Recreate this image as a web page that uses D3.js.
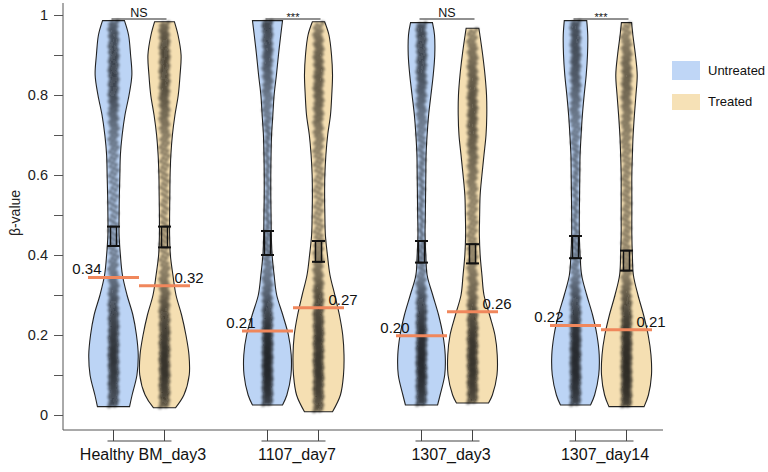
<!DOCTYPE html>
<html>
<head>
<meta charset="utf-8">
<script src="https://cdn.jsdelivr.net/npm/d3@7"></script>
<style>
  body { margin: 0; background: #fff; }
  svg { font-family: "Liberation Sans", Arial, sans-serif; }
</style>
</head>
<body>
<div id="chart"></div>
<script>
// groups on the x axis and the two conditions inside each
var groups = ["Healthy BM_day3", "1107_day7", "1307_day3", "1307_day14"];
var conditions = ["Untreated", "Treated"];
var fills = ["#bcd4f5", "#f5dfb2"];

// beta levels where the violin density was read (between each violin's ends)
var densityLevels = [0.05, 0.10, 0.15, 0.20, 0.25, 0.30, 0.35, 0.40, 0.45, 0.50,
                     0.55, 0.60, 0.65, 0.70, 0.75, 0.80, 0.85, 0.90, 0.95];
var lowEnds  = [[0.021, 0.018], [0.025, 0.008], [0.025, 0.030], [0.025, 0.021]];
var highEnds = [[0.986, 0.983], [0.986, 0.983], [0.981, 0.967], [0.986, 0.981]];

// relative density: low end, the 19 levels, high end
var densities = [
  [[0.63,0.73,0.92,0.97,0.90,0.76,0.53,0.35,0.27,0.22,0.22,0.23,0.25,0.27,0.34,0.45,0.61,0.72,0.67,0.59,0.43],
   [0.43,0.76,0.97,0.96,0.84,0.67,0.45,0.33,0.23,0.20,0.20,0.21,0.22,0.25,0.31,0.41,0.54,0.61,0.65,0.53,0.39]],
  [[0.59,0.76,0.92,0.93,0.82,0.60,0.36,0.26,0.18,0.15,0.14,0.13,0.13,0.14,0.16,0.21,0.26,0.35,0.43,0.52,0.59],
   [0.55,0.86,0.98,1.00,0.95,0.82,0.64,0.45,0.35,0.27,0.25,0.24,0.25,0.29,0.36,0.47,0.52,0.55,0.51,0.41,0.24]],
  [[0.63,0.73,0.91,0.93,0.84,0.67,0.44,0.22,0.17,0.14,0.15,0.16,0.17,0.18,0.22,0.28,0.37,0.46,0.52,0.51,0.43],
   [0.63,0.78,0.96,0.97,0.88,0.67,0.45,0.37,0.30,0.27,0.28,0.30,0.37,0.45,0.53,0.56,0.55,0.49,0.40,0.29,0.25]],
  [[0.59,0.75,0.91,0.93,0.84,0.67,0.44,0.24,0.18,0.15,0.15,0.16,0.17,0.18,0.22,0.27,0.34,0.42,0.47,0.48,0.44],
   [0.69,0.86,0.98,0.96,0.85,0.67,0.45,0.27,0.23,0.21,0.21,0.21,0.21,0.23,0.26,0.31,0.37,0.42,0.35,0.25,0.20]]
];

var medians = [[0.344, 0.323], [0.21, 0.268], [0.198, 0.258], [0.224, 0.213]];
var errLow  = [[0.4225, 0.419], [0.400, 0.383], [0.381, 0.379], [0.392, 0.361]];
var errHigh = [[0.471, 0.471], [0.460, 0.435], [0.435, 0.427], [0.4475, 0.411]];
var significance = ["NS", "***", "NS", "***"];
var yTicks = d3.range(11).map(function(i) { return i / 10; });

var width = 768, height = 472;
var svg = d3.select("#chart").append("svg")
    .attr("width", width)
    .attr("height", height);

var y = d3.scaleLinear().domain([0, 1]).range([415, 15]);
var x0 = d3.scaleBand().domain(groups).range([62, 678]);
var x1 = d3.scaleBand().domain(conditions).range([-51, 51]);
var halfW = d3.scaleLinear().domain([0, 1]).range([0, x1.bandwidth() / 2]);
var axisX = 63, axisBottom = y(0) + 15;

function groupCenter(g) { return x0(g) + x0.bandwidth() / 2; }
function violinCenter(g, c) { return groupCenter(g) + x1(c) + x1.bandwidth() / 2; }

var defs = svg.append("defs");
defs.append("filter").attr("id", "soft")
    .append("feGaussianBlur").attr("stdDeviation", 0.85);

// axes
var yAxis = d3.axisLeft(y)
    .tickValues(yTicks)
    .tickSize(9)
    .tickPadding(6)
    .tickFormat(function(d, i) { return i % 2 === 0 ? d3.format("~g")(d) : ""; });

var gy = svg.append("g")
    .attr("transform", "translate(" + axisX + ",0)")
    .call(yAxis);
gy.select(".domain").remove();
gy.selectAll(".tick line").attr("stroke", "#555");
gy.selectAll(".tick text")
    .attr("font-size", 14.5)
    .attr("fill", "#222")
    .attr("font-family", "Liberation Sans, Arial, sans-serif");

svg.append("line")
    .attr("x1", axisX).attr("x2", axisX)
    .attr("y1", y(1) - 12).attr("y2", axisBottom)
    .attr("stroke", "#555");
svg.append("line")
    .attr("x1", axisX).attr("x2", x0.range()[1] - 15)
    .attr("y1", axisBottom).attr("y2", axisBottom)
    .attr("stroke", "#555");

svg.append("text")
    .attr("transform", "translate(20," + (y(0.5) - 2) + ") rotate(-90)")
    .attr("text-anchor", "middle")
    .attr("font-size", 14)
    .attr("fill", "#222")
    .text("β-value");

// one violin per group x condition
var cells = [];
groups.forEach(function(g, gi) {
    conditions.forEach(function(c, ci) {
        var vs = [lowEnds[gi][ci]].concat(densityLevels, [highEnds[gi][ci]]);
        var profile = vs.map(function(v, k) { return { v: v, d: densities[gi][ci][k] }; });
        cells.push({
            group: g, gi: gi, cond: c, ci: ci,
            cx: violinCenter(g, c),
            profile: profile,
            median: medians[gi][ci],
            lo: errLow[gi][ci], hi: errHigh[gi][ci]
        });
    });
});

var area = d3.area()
    .curve(d3.curveCatmullRom)
    .y(function(p) { return y(p.v); });

var violins = svg.selectAll("g.violin")
    .data(cells).enter()
    .append("g")
    .attr("class", "violin");

violins.append("path")
    .attr("d", function(d) {
        return area
            .x0(function(p) { return d.cx - halfW(p.d); })
            .x1(function(p) { return d.cx + halfW(p.d); })(d.profile);
    })
    .attr("fill", function(d) { return fills[d.ci]; })
    .attr("stroke", "#222")
    .attr("stroke-width", 1.1);

// points placed at quantiles of each violin's density profile
function quantilePoints(d, n) {
    var vs = d.profile.map(function(p) { return p.v; });
    var dens = d3.scaleLinear().domain(vs).range(d.profile.map(function(p) { return p.d; }));
    var lo = vs[0], hi = vs[vs.length - 1], steps = 400;
    var grid = [], cum = [0];
    for (var k = 0; k <= steps; k++) grid.push(lo + (hi - lo) * k / steps);
    for (k = 1; k <= steps; k++) cum.push(cum[k - 1] + (dens(grid[k]) + dens(grid[k - 1])) / 2);
    var total = cum[steps];
    var out = [];
    for (var i = 0; i < n; i++) {
        var target = (i + 0.5) / n * total;
        var j = d3.bisectLeft(cum, target);
        j = Math.max(1, Math.min(steps, j));
        var t = (target - cum[j - 1]) / (cum[j] - cum[j - 1] || 1);
        var v = grid[j - 1] + t * (grid[j] - grid[j - 1]);
        var spread = Math.min(4.5, halfW(dens(v)) - 1.5);
        var frac = (i * 0.618034) % 1;
        out.push({ v: v, dx: (frac * 2 - 1) * spread });
    }
    return out;
}

violins.append("g")
    .attr("filter", "url(#soft)")
    .each(function(d) {
        d3.select(this).selectAll("circle")
            .data(quantilePoints(d, 420)).enter()
            .append("circle")
            .attr("cx", function(p) { return d.cx + p.dx; })
            .attr("cy", function(p) { return y(p.v); })
            .attr("r", 2.2)
            .attr("fill", "#0d0d0d")
            .attr("fill-opacity", 0.4);
    });

// error bars
violins.append("rect")
    .attr("x", function(d) { return d.cx - 3; })
    .attr("width", 6)
    .attr("y", function(d) { return y(d.hi); })
    .attr("height", function(d) { return y(d.lo) - y(d.hi); })
    .attr("fill", "none")
    .attr("stroke", "#111")
    .attr("stroke-width", 1.5);

["hi", "lo"].forEach(function(key) {
    violins.append("line")
        .attr("x1", function(d) { return d.cx - 6.5; })
        .attr("x2", function(d) { return d.cx + 6.5; })
        .attr("y1", function(d) { return y(d[key]); })
        .attr("y2", function(d) { return y(d[key]); })
        .attr("stroke", "#111")
        .attr("stroke-width", 2);
});

// median lines and labels
violins.append("line")
    .attr("x1", function(d) { return d.cx - x1.bandwidth() / 2; })
    .attr("x2", function(d) { return d.cx + x1.bandwidth() / 2; })
    .attr("y1", function(d) { return y(d.median); })
    .attr("y2", function(d) { return y(d.median); })
    .attr("stroke", "#f0875c")
    .attr("stroke-width", 3);

violins.append("text")
    .attr("x", function(d) { return d.ci === 0 ? d.cx - 12 : d.cx + 10; })
    .attr("y", function(d) { return y(d.median) - 3; })
    .attr("text-anchor", function(d) { return d.ci === 0 ? "end" : "start"; })
    .attr("font-size", 15)
    .attr("fill", "#111")
    .text(function(d) { return d3.format(".2f")(d.median); });

// x ticks with group brackets below the axis
groups.forEach(function(g, gi) {
    var u = violinCenter(g, conditions[0]), t = violinCenter(g, conditions[1]);
    conditions.forEach(function(c) {
        var cx = violinCenter(g, c);
        svg.append("line")
            .attr("x1", cx).attr("x2", cx)
            .attr("y1", axisBottom).attr("y2", axisBottom + 11)
            .attr("stroke", "#444");
    });
    svg.append("line")
        .attr("x1", u - 6).attr("x2", t + 7)
        .attr("y1", axisBottom + 11).attr("y2", axisBottom + 11)
        .attr("stroke", "#444")
        .attr("stroke-width", 1.2);
    svg.append("text")
        .attr("x", groupCenter(g) + 4)
        .attr("y", axisBottom + 30)
        .attr("text-anchor", "middle")
        .attr("font-size", 16)
        .attr("fill", "#111")
        .text(g);

    // significance bracket on top
    svg.append("line")
        .attr("x1", u - 2).attr("x2", t + 2)
        .attr("y1", y(1) + 4).attr("y2", y(1) + 4)
        .attr("stroke", "#222");
    var isStar = significance[gi] !== "NS";
    svg.append("text")
        .attr("x", groupCenter(g))
        .attr("y", isStar ? y(1) + 6 : y(1) + 2)
        .attr("text-anchor", "middle")
        .attr("font-size", isStar ? 11 : 12.5)
        .attr("fill", "#111")
        .text(significance[gi]);
});

// legend
var legend = svg.selectAll("g.legend")
    .data(conditions).enter()
    .append("g")
    .attr("class", "legend")
    .attr("transform", function(d, i) { return "translate(672," + (61 + i * 33) + ")"; });

legend.append("rect")
    .attr("width", 28)
    .attr("height", function(d, i) { return i === 0 ? 19 : 16; })
    .attr("fill", function(d, i) { return fills[i]; })
    .attr("fill-opacity", 0.95);

legend.append("text")
    .attr("x", 36)
    .attr("y", function(d, i) { return i === 0 ? 14 : 12; })
    .attr("font-size", 13)
    .attr("fill", "#111")
    .text(function(d) { return d; });
</script>
</body>
</html>
